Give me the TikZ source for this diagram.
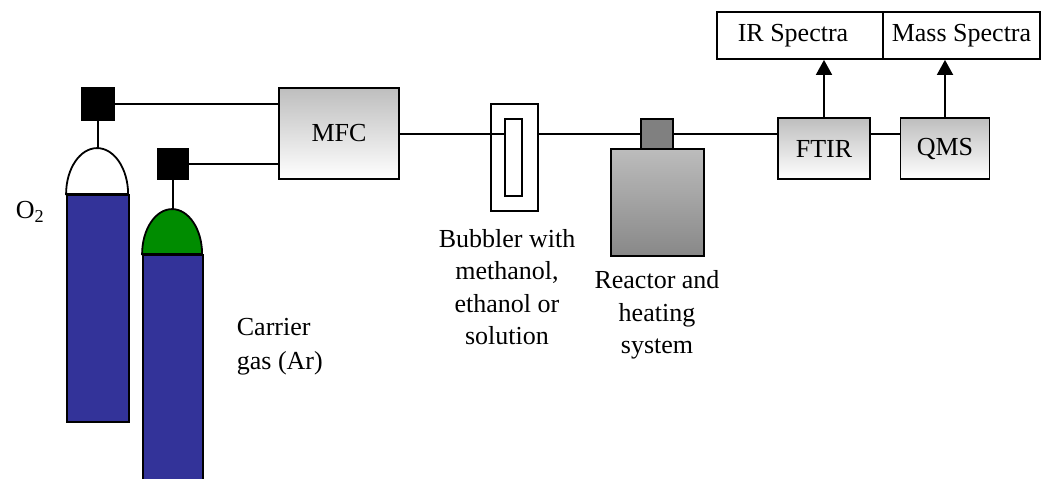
\documentclass[tikz,border=0pt]{standalone}
\usepackage{fontspec}
\setmainfont{Liberation Serif}
\usetikzlibrary{arrows.meta}
\definecolor{tankblue}{RGB}{51,51,153}
\definecolor{capgreen}{RGB}{0,140,0}
\definecolor{lightgrey}{RGB}{190,190,190}
\definecolor{midgrey}{RGB}{188,188,188}
\definecolor{darkgrey}{RGB}{136,136,136}
\definecolor{capgrey}{RGB}{128,128,128}

\begin{document}
\begin{tikzpicture}[x=1pt,y=-1pt,line width=1.8pt,
  box/.style={draw,rectangle,inner sep=0pt},
  valve/.style={box,fill=black},
  unit/.style={box,top color=lightgrey,bottom color=white,
    font=\fontsize{26}{32}\selectfont},
  outbox/.style={box,fill=white,font=\fontsize{26}{32}\selectfont},
  lbl/.style={inner sep=0pt,align=center},
  pipe/.style={draw,line width=1.8pt},
  signal/.style={draw,line width=1.8pt,-{Triangle[width=16pt,length=15pt]}}]
\useasboundingbox (0,0) rectangle (1041,479);

% gas cylinders
\node[box,fill=tankblue,minimum width=62pt,minimum height=227pt] (o2body) at (98,308.5) {};
\filldraw[fill=white] (o2body.north west) arc[start angle=180,end angle=0,x radius=31pt,y radius=46pt] -- cycle;
\coordinate (o2top) at (98,149);
\node[box,fill=tankblue,minimum width=60pt,minimum height=226pt] (arbody) at (173,368) {};
\filldraw[fill=capgreen] (arbody.north west) arc[start angle=180,end angle=0,x radius=30pt,y radius=45pt] -- cycle;
\coordinate (artop) at (173,210);

% valves
\node[valve,minimum width=32pt,minimum height=32pt] (o2valve) at (98,104) {};
\node[valve,minimum width=31pt,minimum height=31pt] (arvalve) at (173,164) {};

% mass flow controller
\node[unit,minimum width=120pt,minimum height=91pt] (mfc) at (339,133.5) {MFC};

% bubbler
\node[box,fill=white,minimum width=47pt,minimum height=107pt] (bubout) at (514.5,157.5) {};
\node[box,fill=white,minimum width=17pt,minimum height=77pt] (bubin) at (513.5,157.5) {};

% reactor
\node[box,top color=midgrey,bottom color=darkgrey,minimum width=93pt,minimum height=107pt] (reactor) at (657.5,202.5) {};
\node[box,fill=capgrey,minimum width=32pt,minimum height=30pt] (rcap) at (657,134) {};

% analysers
\node[unit,minimum width=92pt,minimum height=61pt] (ftir) at (824,148.5) {FTIR};
\node[unit,minimum width=89pt,minimum height=61pt] (qms) at (945,148.5) {QMS};
\node[outbox,minimum width=166pt,minimum height=47pt] (ir) at (800,35.5) {IR Spectra\hspace*{14pt}};
\node[outbox,minimum width=157pt,minimum height=47pt] (ms) at (961.5,35.5) {Mass Spectra};

% gas lines
\draw[pipe] (o2valve.south) -- (o2top);
\draw[pipe] (arvalve.south) -- (artop);
\draw[pipe] (o2valve.east) -- (o2valve.east -| mfc.west);
\draw[pipe] (arvalve.east) -- (arvalve.east -| mfc.west);
\draw[pipe] (mfc.east |- rcap.west) -- (bubin.west |- rcap.west);
\draw[pipe] (bubout.east |- rcap.west) -- (rcap.west);
\draw[pipe] (rcap.east) -- (rcap.east -| ftir.west);
\draw[pipe] (ftir.east |- rcap.east) -- (qms.west |- rcap.east);

% signal outputs
\draw[signal] (ftir.north) -- (ftir.north |- ir.south);
\draw[signal] (qms.north) -- (qms.north |- ms.south);

% labels
\begin{scope}[font=\fontsize{26}{32.5}\selectfont]
\node[lbl] (o2lbl) at (30,212) {O\textsubscript{2}};
\node[lbl,anchor=west,align=left,font=\fontsize{26}{34}\selectfont] (arlbl) at (236,347) {Carrier\\gas (Ar)};
\node[lbl] (bublbl) at (507,287) {Bubbler with\\methanol,\\ethanol or\\solution};
\node[lbl] (reactlbl) at (657,315) {Reactor and\\heating\\system};
\end{scope}
\end{tikzpicture}
\end{document}
